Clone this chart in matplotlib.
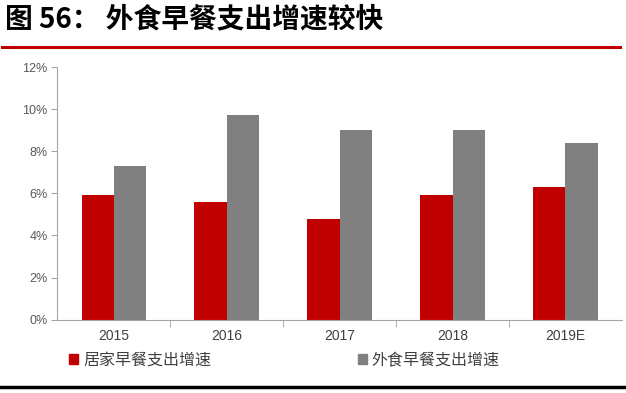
import numpy as np
import matplotlib.pyplot as plt
from matplotlib.patches import Patch
from matplotlib.ticker import FuncFormatter

plt.rcParams['font.family'] = ['Liberation Sans', 'Noto Sans CJK SC', 'DejaVu Sans']

years = ['2015', '2016', '2017', '2018', '2019E']
home = [5.9, 5.6, 4.8, 5.9, 6.3]   # 居家早餐支出增速 (%)
away = [7.3, 9.7, 9.0, 9.0, 8.4]   # 外食早餐支出增速 (%)
labels = ['居家早餐支出增速', '外食早餐支出增速']

fig = plt.figure(figsize=(6.26, 3.93), dpi=100)
ax = fig.add_axes([0.0915, 0.1865, 0.902, 0.643])

x = np.arange(len(years))
w = 0.285
ax.bar(x - w/2, home, w, color='#c00000')
ax.bar(x + w/2, away, w, color='#808080')

ax.set_xlim(-0.5, len(years) - 0.5)
ax.set_ylim(0, 12)
ax.set_yticks(np.arange(0, 13, 2))
ax.yaxis.set_major_formatter(FuncFormatter(lambda v, p: f'{v:.0f}%'))
ax.set_xticks(x)
ax.set_xticklabels(years)
ax.set_xticks(np.arange(0.5, len(years) - 0.5, 1), minor=True)
ax.tick_params(axis='x', which='major', length=0, pad=7, labelsize=10, labelcolor='#404040')
ax.tick_params(axis='x', which='minor', length=5, color='#a6a6a6', direction='out')
ax.tick_params(axis='y', length=4, color='#a6a6a6', labelsize=9, labelcolor='#595959', pad=3)

for s in ['top', 'right']:
    ax.spines[s].set_visible(False)
for s in ['left', 'bottom']:
    ax.spines[s].set_color('#a6a6a6')
    ax.spines[s].set_linewidth(0.8)

handles = [Patch(color='#c00000'), Patch(color='#808080')]
leg = fig.legend(handles, labels, loc='center left', bbox_to_anchor=(0.088, 0.083),
                 ncol=2, frameon=False, handlelength=0.55, handleheight=0.55,
                 handletextpad=0.3, columnspacing=9.2,
                 prop={'family': 'Noto Sans CJK SC', 'size': 11.5})
for t in leg.get_texts():
    t.set_color('#404040')

fig.text(0.008, 0.952, '图 56： 外食早餐支出增速较快', fontsize=20, fontweight='bold',
         family=['Noto Sans CJK SC'], va='center', ha='left')
fig.add_artist(plt.Line2D([0.003, 0.99], [0.88, 0.88], color='#c00000', lw=2.2))
fig.add_artist(plt.Line2D([0.0, 1.0], [0.015, 0.015], color='black', lw=2.5))

fig.savefig('out.png', dpi=100)
